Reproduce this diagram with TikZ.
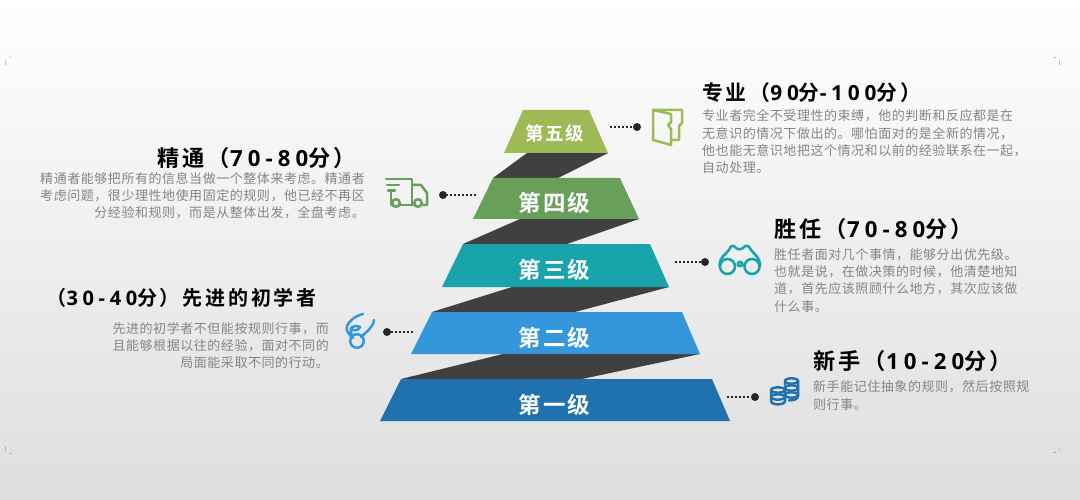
\documentclass[tikz,border=0pt]{standalone}
\usepackage{fontspec}
\setmainfont{Noto Sans CJK SC}
\newfontfamily\cjkbody[LetterSpace=4.2]{Noto Sans CJK SC}
\newfontfamily\cjktitle[LetterSpace=14,BoldFont={Noto Sans CJK SC Bold}]{Noto Sans CJK SC}
\newfontfamily\digittitle[LetterSpace=23,BoldFont={Open Sans Bold}]{Open Sans}
\newfontfamily\cjklevel[LetterSpace=8,BoldFont={Noto Sans CJK SC Bold}]{Noto Sans CJK SC}
\newcommand{\digs}[1]{{\digittitle\bfseries #1}}
\definecolor{lfive}{HTML}{9DBB55}
\definecolor{lfour}{HTML}{68A05A}
\definecolor{lthree}{HTML}{19A4AC}
\definecolor{ltwo}{HTML}{3597DB}
\definecolor{lone}{HTML}{1F72AD}
\definecolor{slab}{HTML}{404040}
\definecolor{bodygray}{HTML}{858585}
\definecolor{bgmid}{HTML}{F3F3F3}
\definecolor{bgend}{HTML}{DEDEDE}
\definecolor{leader}{HTML}{262626}
\tikzset{
  leveltext/.style={text=white,inner sep=0pt,font=\cjklevel\bfseries\fontsize{22.5}{24}\selectfont},
  smalllevel/.style={text=white,inner sep=0pt,font=\cjklevel\bfseries\fontsize{18.5}{20}\selectfont},
  titletext/.style={text=black,inner sep=0pt,anchor=west,font=\cjktitle\bfseries\fontsize{#1}{24}\selectfont},
  bodytext/.style={text=bodygray,inner sep=0pt,font=\cjkbody\fontsize{13}{17.3}\selectfont},
  dotline/.style={line width=2.2pt,leader,dash pattern=on 2pt off 2pt},
  enddot/.style={circle,fill=leader,inner sep=0pt,minimum size=8pt},
  icon/.style={line width=#1,line join=round,line cap=round,fill=none}
}
\begin{document}
\begin{tikzpicture}[x=1pt,y=-1pt]
\useasboundingbox (0,0) rectangle (1080,500);
\shade[top color=white,middle color=bgmid,bottom color=bgend] (0,0) rectangle (1080,500);
% corner marks
\draw[gray!60,line width=.8pt] (6,60) -- (5.5,65) (9,57) -- (11,57);
\draw[gray!60,line width=.8pt] (1059,61) -- (1059,65) (1054,57) -- (1056,57);
\draw[gray!60,line width=.8pt] (5,446) -- (5,451) (9,453) -- (12,453);
\draw[gray!60,line width=.8pt] (1059,447) -- (1059,450) (1053,453) -- (1056,452);
% slabs
\fill[slab] (527,153) -- (608,153) -- (558,178) -- (493,178) -- cycle;
\fill[slab] (520,219) -- (639,219) -- (567,244) -- (463,244) -- cycle;
\fill[slab] (512,287) -- (669,287) -- (575,312) -- (432,312) -- cycle;
\fill[slab] (503,354) -- (700,354) -- (582,379) -- (401,379) -- cycle;
% levels
\fill[lfive] (523,110) -- (589,110) -- (608,153) -- (504,153) -- cycle;
\fill[lfour] (493,178) -- (620,178) -- (639,219) -- (473,219) -- cycle;
\fill[lthree] (463,244) -- (650,244) -- (669,287) -- (442,287) -- cycle;
\fill[ltwo] (432,312) -- (682,312) -- (700,354) -- (411,354) -- cycle;
\fill[lone] (401,379) -- (712,379) -- (730,421) -- (380,421) -- cycle;
\node[smalllevel] (lv5) at (554.5,133.5) {第五级};
\node[leveltext] (lv4) at (554.5,202.5) {第四级};
\node[leveltext] (lv3) at (554.5,269.5) {第三级};
\node[leveltext] (lv2) at (554.5,337.5) {第二级};
\node[leveltext] (lv1) at (554.5,404.5) {第一级};
% leaders
\coordinate (s5) at (610,127); \node[enddot] (d5) at (637,127) {};
\coordinate (s4) at (476,195); \node[enddot] (d4) at (443,195) {};
\coordinate (s3) at (675,262); \node[enddot] (d3) at (705,262) {};
\coordinate (s2) at (413,332); \node[enddot] (d2) at (387,332) {};
\coordinate (s1) at (727,397); \node[enddot] (d1) at (755,397) {};
\draw[dotline] (s5) -- (d5);
\draw[dotline] (s4) -- (d4);
\draw[dotline] (s3) -- (d3);
\draw[dotline] (s2) -- (d2);
\draw[dotline] (s1) -- (d1);
% titles
\node[titletext=20.8] (t5) at (702,93) {专业（\digs{90}分\digs{-100}分）};
\node[titletext=22.2] (t4) at (157,158) {精通（\digs{70-80}分）};
\node[titletext=22.2] (t3) at (774,229) {胜任（\digs{70-80}分）};
\node[titletext=20] (t2) at (46.5,298) {（\digs{30-40}分）先进的初学者};
\node[titletext=22.2] (t1) at (813,361) {新手（\digs{10-20}分）};
% bodies
\node[bodytext,anchor=north west,align=left] (b5) at (702,109.5) {专业者完全不受理性的束缚，他的判断和反应都是在\\无意识的情况下做出的。哪怕面对的是全新的情况，\\他也能无意识地把这个情况和以前的经验联系在一起，\\自动处理。};
\node[bodytext,anchor=north east,align=right] (b4) at (365,172) {精通者能够把所有的信息当做一个整体来考虑。精通者\\考虑问题，很少理性地使用固定的规则，他已经不再区\\分经验和规则，而是从整体出发，全盘考虑。};
\node[bodytext,anchor=north west,align=left] (b3) at (774,248) {胜任者面对几个事情，能够分出优先级。\\也就是说，在做决策的时候，他清楚地知\\道，首先应该照顾什么地方，其次应该做\\什么事。};
\node[bodytext,anchor=north east,align=right] (b2) at (329,322) {先进的初学者不但能按规则行事，而\\且能够根据以往的经验，面对不同的\\局面能采取不同的行动。};
\node[bodytext,anchor=north west,align=left] (b1) at (813,380.5) {新手能记住抽象的规则，然后按照规\\则行事。};
% folder icon
\draw[icon=2.5pt,lfive] (653,110) -- (682,110) -- (682,123) -- (679,126) -- (679,140) -- (671,140);
\draw[icon=2.5pt,lfive] (653,110) -- (671,114) -- (671,122) -- (668,125) -- (671,129) -- (671,145) -- (653,140) -- cycle;
% truck icon
\draw[icon=2.5pt,lfour] (386,179) -- (412,179) -- (412,205);
\draw[icon=2.5pt,lfour] (412,185) -- (421,185) -- (427,193) -- (427,205) -- (423,205);
\draw[icon=2.5pt,lfour] (400,205) -- (413,205);
\draw[icon=2.5pt,lfour] (391,192) -- (391,205) -- (392,205);
\draw[icon=2.5pt,lfour] (387,185) -- (399,185) (388,190.5) -- (395,190.5);
\draw[icon=2.5pt,lfour] (396,203) circle[radius=3.8pt] (418,203) circle[radius=3.8pt];
% binoculars icon
\draw[icon=2.6pt,lthree] (727.5,266.5) circle[radius=7.5pt] (752,266.5) circle[radius=7.5pt] (740,264) circle[radius=2.2pt];
\draw[icon=2.6pt,lthree] (719.5,266) .. controls (719.5,257) and (726,254) .. (729,250) .. controls (731,245) and (733,245) .. (735,247) .. controls (737,250) and (742,250) .. (744,247) .. controls (746,245) and (749,245) .. (751,250) .. controls (754,254) and (760,257) .. (760,266);
% hand icon
\draw[icon=2.5pt,ltwo] (357,341) circle[radius=6.8pt];
\draw[icon=2.5pt,ltwo] (363,314) .. controls (355,316) and (349,321) .. (347,326) .. controls (345,331) and (350,335) .. (353,338) .. controls (352,334) and (350,332) .. (351,328) .. controls (353,326) and (356,325) .. (360,327) .. controls (358,331) and (354,331) .. (351,329);
\draw[icon=2.5pt,ltwo] (374,320) .. controls (373,328) and (366,332) .. (361,337);
% coins icon
\foreach \cy in {381,388,395}{
  \draw[icon=2.5pt,lone] (785,\cy) .. controls (785,\cy-3.5) and (798,\cy-3.5) .. (798,\cy) .. controls (798,\cy+3.5) and (785,\cy+3.5) .. (785,\cy);
}
\draw[icon=2.5pt,lone] (785,381) -- (785,385) (798,381) -- (798,396) .. controls (798,399.5) and (794,400) .. (789,400.5);
\foreach \cy in {390,397}{
  \draw[icon=2.5pt,lone] (771,\cy) .. controls (771,\cy-3.5) and (785,\cy-3.5) .. (785,\cy) .. controls (785,\cy+3.5) and (771,\cy+3.5) .. (771,\cy);
}
\draw[icon=2.5pt,lone] (771,390) -- (771,401) .. controls (771,405.5) and (785,405.5) .. (785,401) -- (785,390);
\end{tikzpicture}
\end{document}
